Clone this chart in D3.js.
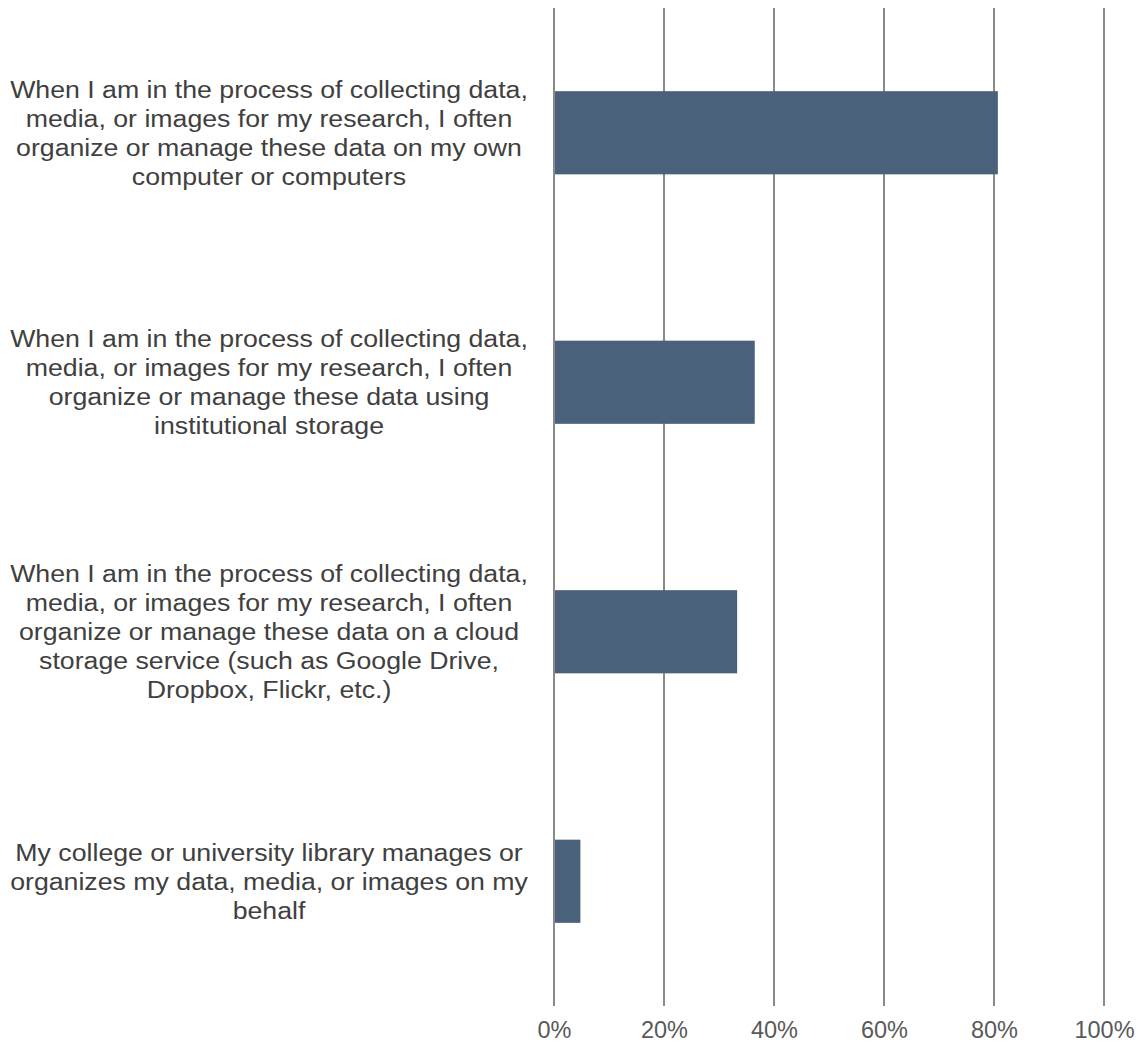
<!DOCTYPE html>
<html><head><meta charset="utf-8">
<script src="https://cdn.jsdelivr.net/npm/d3@7"></script>
<style>body{margin:0;background:#fff}</style>
</head><body>
<svg id="chart" width="1145" height="1055"></svg>
<script>
const categories = [
  ["When I am in the process of collecting data,", "media, or images for my research, I often", "organize or manage these data on my own", "computer or computers"],
  ["When I am in the process of collecting data,", "media, or images for my research, I often", "organize or manage these data using", "institutional storage"],
  ["When I am in the process of collecting data,", "media, or images for my research, I often", "organize or manage these data on a cloud", "storage service (such as Google Drive,", "Dropbox, Flickr, etc.)"],
  ["My college or university library manages or", "organizes my data, media, or images on my", "behalf"]
];
const values = [0.807, 0.365, 0.333, 0.048];
const xTicks = [0, 0.2, 0.4, 0.6, 0.8, 1.0];

const svg = d3.select("#chart");
const x = d3.scaleLinear().domain([0, 1]).range([554, 1104]);
const y = d3.scaleBand().domain(d3.range(categories.length)).range([8, 1006]).padding(0);
const font = "'Liberation Sans', Arial, sans-serif";

// gridlines
svg.append("g").selectAll("line").data(xTicks).join("line")
  .attr("x1", d => x(d)).attr("x2", d => x(d))
  .attr("y1", 8).attr("y2", 1006)
  .attr("stroke", "#8a8a8a").attr("stroke-width", 2);

// bars
svg.append("g").selectAll("rect").data(values).join("rect")
  .attr("x", x(0) + 1)
  .attr("y", (d, i) => y(i) + y.bandwidth() / 3)
  .attr("width", d => x(d) - x(0) - 1)
  .attr("height", y.bandwidth() / 3)
  .attr("fill", "#4a617b");

// x axis
const xAxis = d3.axisBottom(x).tickValues(xTicks).tickFormat(d3.format(".0%")).tickSize(0).tickPadding(0);
const gx = svg.append("g").attr("transform", "translate(0,1021)").call(xAxis);
gx.select(".domain").remove();
gx.selectAll("text").attr("font-family", font).attr("font-size", 23.5).attr("fill", "#595959").attr("dy", "0.71em");

// category labels
const lh = 29;
const cx = 269;
const lg = svg.append("g").attr("transform", `translate(${cx},0) scale(1.09,1)`);
categories.forEach((lines, i) => {
  const cy = y(i) + y.bandwidth() / 2;
  const t = lg.append("text")
    .attr("font-family", font).attr("font-size", 24.5).attr("fill", "#404040")
    .attr("text-anchor", "middle");
  lines.forEach((ln, j) => {
    t.append("tspan").attr("x", 0)
      .attr("y", cy + (j - (lines.length - 1) / 2) * lh)
      .attr("dy", "0.35em").text(ln);
  });
});
</script>
</body></html>
